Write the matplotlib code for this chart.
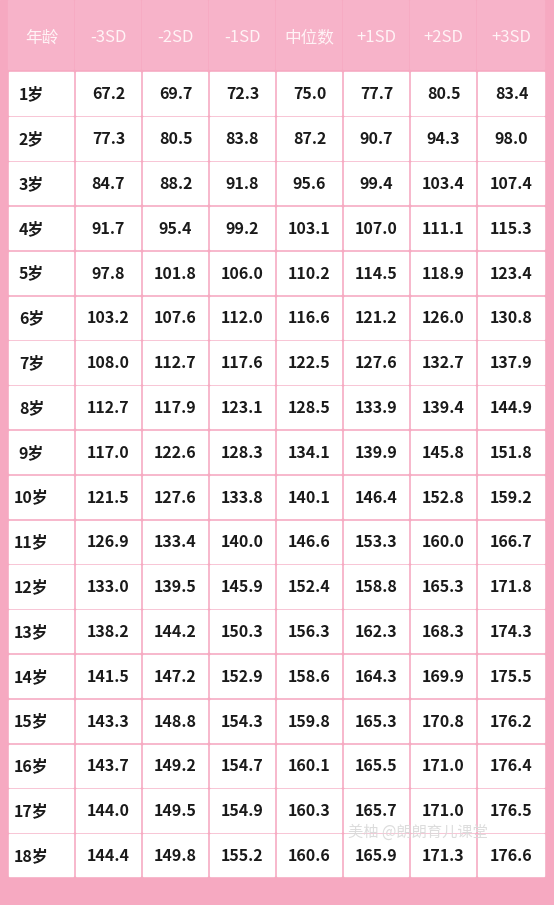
import matplotlib
matplotlib.use("Agg")
import matplotlib.pyplot as plt
from matplotlib.patches import Rectangle

plt.rcParams['font.family'] = ['Noto Sans CJK SC', 'DejaVu Sans']

headers = ["年龄", "-3SD", "-2SD", "-1SD", "中位数", "+1SD", "+2SD", "+3SD"]
ages = [f"{i}岁" for i in range(1, 19)]
m3 = [67.2, 77.3, 84.7, 91.7, 97.8, 103.2, 108.0, 112.7, 117.0, 121.5, 126.9, 133.0, 138.2, 141.5, 143.3, 143.7, 144.0, 144.4]
m2 = [69.7, 80.5, 88.2, 95.4, 101.8, 107.6, 112.7, 117.9, 122.6, 127.6, 133.4, 139.5, 144.2, 147.2, 148.8, 149.2, 149.5, 149.8]
m1 = [72.3, 83.8, 91.8, 99.2, 106.0, 112.0, 117.6, 123.1, 128.3, 133.8, 140.0, 145.9, 150.3, 152.9, 154.3, 154.7, 154.9, 155.2]
med = [75.0, 87.2, 95.6, 103.1, 110.2, 116.6, 122.5, 128.5, 134.1, 140.1, 146.6, 152.4, 156.3, 158.6, 159.8, 160.1, 160.3, 160.6]
p1 = [77.7, 90.7, 99.4, 107.0, 114.5, 121.2, 127.6, 133.9, 139.9, 146.4, 153.3, 158.8, 162.3, 164.3, 165.3, 165.5, 165.7, 165.9]
p2 = [80.5, 94.3, 103.4, 111.1, 118.9, 126.0, 132.7, 139.4, 145.8, 152.8, 160.0, 165.3, 168.3, 169.9, 170.8, 171.0, 171.0, 171.3]
p3 = [83.4, 98.0, 107.4, 115.3, 123.4, 130.8, 137.9, 144.9, 151.8, 159.2, 166.7, 171.8, 174.3, 175.5, 176.2, 176.4, 176.5, 176.6]
series = [m3, m2, m1, med, p1, p2, p3]

W, H = 554, 905
fig = plt.figure(figsize=(W/100, H/100), dpi=100)
ax = fig.add_axes([0, 0, 1, 1])
ax.set_xlim(0, W); ax.set_ylim(H, 0); ax.axis('off')
pink = '#f6a9c1'
ax.add_patch(Rectangle((0, 0), W, H, color=pink, zorder=0))

xb = [8, 75, 142, 209, 276, 343, 410, 477, 546]
hdr = 72
rowh = 44.8
gap = 2.5
for j, h in enumerate(headers):
    cx = (xb[j] + xb[j+1]) / 2
    ax.add_patch(Rectangle((xb[j], 0), xb[j+1]-xb[j]-gap, hdr-gap, color='#f7b3c9', zorder=1))
    ax.text(cx, 38, h, ha='center', va='center', color='#fff3f6', fontsize=12, zorder=3)
for i in range(18):
    y0 = hdr + i * rowh
    cy = y0 + rowh/2
    for j in range(8):
        ax.add_patch(Rectangle((xb[j]+0.5, y0+0.5), xb[j+1]-xb[j]-gap, rowh-gap, color='white', zorder=1))
        cx = (xb[j] + xb[j+1]) / 2
        txt = ages[i] if j == 0 else f"{series[j-1][i]:.1f}"
        ax.text(cx - (10 if j == 0 else 0), cy, txt, ha='center', va='center', color='#1a1a1a',
                fontsize=11.5, fontweight='bold', zorder=3)
ax.text(418, 832, "美柚 @朗朗育儿课堂", ha='center', va='center', color='#d9d9d9', alpha=0.9,
        fontsize=11, zorder=4)
fig.savefig("out.png", dpi=100)
